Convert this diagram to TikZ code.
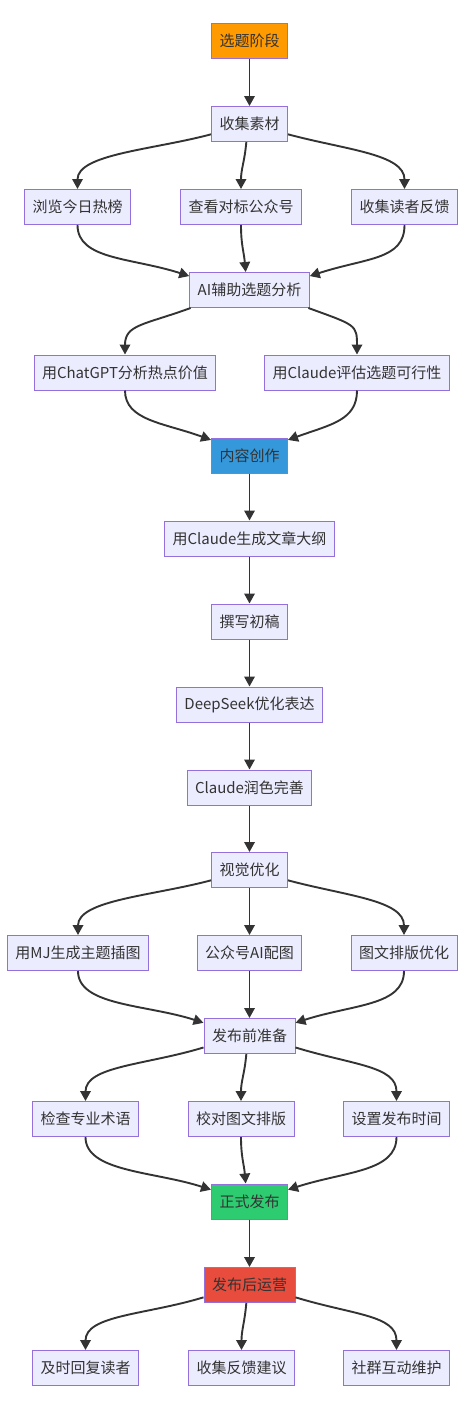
\documentclass[tikz,border=0pt]{standalone}
\usepackage{fontspec}
\setmainfont{Noto Sans CJK SC}
\usetikzlibrary{arrows.meta}
\definecolor{boxfill}{HTML}{ECECFF}
\definecolor{boxline}{HTML}{9370DB}
\definecolor{linecol}{HTML}{333333}
\definecolor{orangefill}{HTML}{FF9A00}
\definecolor{bluefill}{HTML}{3498DB}
\definecolor{greenfill}{HTML}{2ECC71}
\definecolor{redfill}{HTML}{E74C3C}
\tikzset{
  stepbox/.style={rectangle, draw=boxline, fill=boxfill, line width=1pt, minimum height=35pt, inner xsep=8pt, text=linecol, font=\fontsize{15}{17}\selectfont},
  link/.style={draw=linecol, line width=1.9pt, -{Triangle[length=10pt,width=10.5pt]}}
}
\begin{document}
\begin{tikzpicture}[x=1pt, y=1pt]
        \useasboundingbox (0,0) rectangle (466,-1409);
        % Nodes
        \node[stepbox, fill=orangefill] (1) at (249.5, -41) {选题阶段};
        \node[stepbox] (2) at (249.5, -124) {收集素材};
        \node[stepbox] (3) at (77.5, -207) {浏览今日热榜};
        \node[stepbox] (4) at (241, -207) {查看对标公众号};
        \node[stepbox] (5) at (404.5, -207) {收集读者反馈};
        \node[stepbox] (6) at (249.5, -290) {AI辅助选题分析};
        \node[stepbox] (7) at (125, -372.5) {用ChatGPT分析热点价值};
        \node[stepbox] (8) at (357, -372.5) {用Claude评估选题可行性};
        \node[stepbox, fill=bluefill] (9) at (249.5, -455.5) {内容创作};
        \node[stepbox] (10) at (249.5, -538.5) {用Claude生成文章大纲};
        \node[stepbox] (11) at (249.5, -621.5) {撰写初稿};
        \node[stepbox] (12) at (249.5, -704.5) {DeepSeek优化表达};
        \node[stepbox] (13) at (249.5, -787.5) {Claude润色完善};
        \node[stepbox] (14) at (249.5, -870) {视觉优化};
        \node[stepbox] (15) at (78, -953) {用MJ生成主题插图};
        \node[stepbox] (16) at (249.5, -953) {公众号AI配图};
        \node[stepbox] (17) at (404, -953) {图文排版优化};
        \node[stepbox] (18) at (249.5, -1036) {发布前准备};
        \node[stepbox] (19) at (85.5, -1119) {检查专业术语};
        \node[stepbox] (20) at (241, -1119) {校对图文排版};
        \node[stepbox] (21) at (396.5, -1119) {设置发布时间};
        \node[stepbox, fill=greenfill] (22) at (249.5, -1201.5) {正式发布};
        \node[stepbox, fill=redfill] (23) at (249.5, -1285) {发布后运营};
        \node[stepbox] (24) at (85.5, -1368) {及时回复读者};
        \node[stepbox] (25) at (241.5, -1368) {收集反馈建议};
        \node[stepbox] (26) at (396.5, -1368) {社群互动维护};

        % Arrows
        \draw[link] (1) -- (2);
        \draw[link] (2.195) .. controls +(195:60) and +(90:35) .. (3.north);
        \draw[link] (2.260) .. controls +(-95:20) and +(90:20) .. (4.north);
        \draw[link] (2.345) .. controls +(-15:60) and +(90:35) .. (5.north);
        \draw[link] (3.south) .. controls +(-90:35) and +(162:60) .. (6.167);
        \draw[link] (4.south) .. controls +(-90:20) and +(95:20) .. (6.102);
        \draw[link] (5.south) .. controls +(-90:35) and +(18:60) .. (6.13);
        \draw[link] (6.197) .. controls +(200:50) and +(90:30) .. (7.north);
        \draw[link] (6.343) .. controls +(-20:50) and +(90:30) .. (8.north);
        \draw[link] (7.south) .. controls +(-90:30) and +(160:50) .. (9.158);
        \draw[link] (8.south) .. controls +(-90:30) and +(20:45) .. (9.22);
        \draw[link] (9) -- (10);
        \draw[link] (10) -- (11);
        \draw[link] (11) -- (12);
        \draw[link] (12) -- (13);
        \draw[link] (13) -- (14);
        \draw[link] (14.195) .. controls +(195:60) and +(90:35) .. (15.north);
        \draw[link] (14) -- (16);
        \draw[link] (14.345) .. controls +(-15:60) and +(90:35) .. (17.north);
        \draw[link] (15.south) .. controls +(-90:35) and +(162:60) .. (18.164);
        \draw[link] (16) -- (18);
        \draw[link] (17.south) .. controls +(-90:35) and +(18:60) .. (18.16);
        \draw[link] (18.194) .. controls +(197:60) and +(90:35) .. (19.north);
        \draw[link] (18.260) .. controls +(-95:20) and +(90:20) .. (20.north);
        \draw[link] (18.346) .. controls +(-17:60) and +(90:35) .. (21.north);
        \draw[link] (19.south) .. controls +(-90:35) and +(162:60) .. (22.163);
        \draw[link] (20.south) .. controls +(-90:20) and +(95:20) .. (22.102);
        \draw[link] (21.south) .. controls +(-90:35) and +(18:60) .. (22.17);
        \draw[link] (22) -- (23);
        \draw[link] (23.195) .. controls +(197:60) and +(90:35) .. (24.north);
        \draw[link] (23.260) .. controls +(-95:20) and +(90:20) .. (25.north);
        \draw[link] (23.345) .. controls +(-17:60) and +(90:35) .. (26.north);
    \end{tikzpicture}
\end{document}
